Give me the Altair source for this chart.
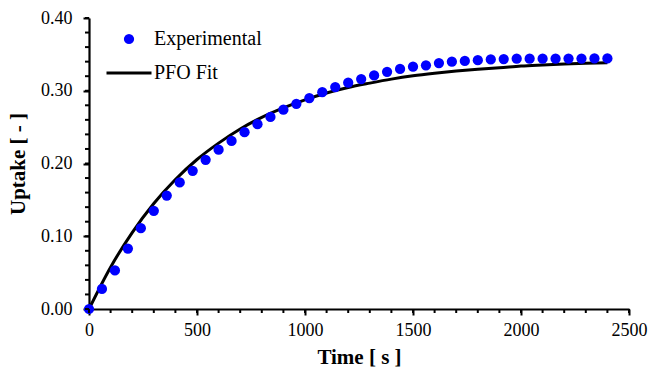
import altair as alt
import pandas as pd

# Experimental data (time in s, uptake [-])
exp_time = [0, 60, 120, 180, 240, 300, 360, 420, 480, 540,
            600, 660, 720, 780, 840, 900, 960, 1020, 1080, 1140,
            1200, 1260, 1320, 1380, 1440, 1500, 1560, 1620, 1680, 1740,
            1800, 1860, 1920, 1980, 2040, 2100, 2160, 2220, 2280, 2340, 2400]
exp_uptake = [0.000, 0.0275, 0.053, 0.083, 0.111, 0.135, 0.156, 0.174, 0.190, 0.205,
              0.219, 0.231, 0.243, 0.254, 0.264, 0.274, 0.282, 0.290, 0.298, 0.305,
              0.311, 0.316, 0.321, 0.326, 0.330, 0.333, 0.335, 0.338, 0.340, 0.341,
              0.342, 0.343, 0.3435, 0.344, 0.344, 0.344, 0.344, 0.3442, 0.3443, 0.3444, 0.3445]

# PFO fit curve
fit_time = [0, 100, 200, 300, 400, 500, 600, 700, 800, 900, 1000, 1100, 1200,
            1300, 1400, 1500, 1600, 1700, 1800, 1900, 2000, 2100, 2200, 2300, 2400]
fit_uptake = [0.000, 0.0575, 0.105, 0.145, 0.178, 0.2055, 0.228, 0.2475, 0.2635, 0.2765,
              0.2875, 0.297, 0.3045, 0.3105, 0.316, 0.3205, 0.324, 0.327, 0.3295, 0.3315,
              0.334, 0.3355, 0.3368, 0.3378, 0.3386]

# tick values
x_major = [0, 500, 1000, 1500, 2000, 2500]
x_minor = [0, 100, 200, 300, 400, 500, 600, 700, 800, 900, 1000, 1100, 1200,
           1300, 1400, 1500, 1600, 1700, 1800, 1900, 2000, 2100, 2200, 2300, 2400, 2500]
y_major = [0.0, 0.1, 0.2, 0.3, 0.4]
y_minor = [0.0, 0.02, 0.04, 0.06, 0.08, 0.1, 0.12, 0.14, 0.16, 0.18, 0.2,
           0.22, 0.24, 0.26, 0.28, 0.3, 0.32, 0.34, 0.36, 0.38, 0.4]

exp_df = pd.DataFrame({"time": exp_time, "uptake": exp_uptake, "series": "Experimental"})
fit_df = pd.DataFrame({"time": fit_time, "uptake": fit_uptake, "series": "PFO Fit"})
xminor_df = pd.DataFrame({"time": x_minor})
yminor_df = pd.DataFrame({"uptake": y_minor})

FONT = "Liberation Serif"
W, H = 540, 291
xscale = alt.Scale(domain=[0, 2500], nice=False, zero=False)
yscale = alt.Scale(domain=[0, 0.4], nice=False)

x_axis = alt.Axis(values=x_major, format="d", grid=False, ticks=True, tickSize=6,
                  tickWidth=2, tickColor="black", domainColor="black", domainWidth=2.2,
                  labelFont=FONT, labelFontSize=18, labelColor="black",
                  labelPadding=6, labelFlush=False,
                  title="Time [ s ]", titleFont=FONT,
                  titleFontSize=21, titleFontWeight="bold", titleColor="black",
                  titlePadding=7)
y_axis = alt.Axis(values=y_major, format=".2f", grid=False, ticks=True, tickSize=6,
                  tickWidth=2, tickColor="black", domainColor="black",
                  domainWidth=2.2, labelFont=FONT, labelFontSize=18,
                  labelColor="black", labelPadding=11, labelFlush=False,
                  title="Uptake [ - ]",
                  titleFont=FONT, titleFontSize=21, titleFontWeight="bold",
                  titleColor="black", titlePadding=12)

line = alt.Chart(fit_df).mark_line(strokeWidth=3, interpolate="monotone").encode(
    x=alt.X("time:Q", scale=xscale, axis=x_axis),
    y=alt.Y("uptake:Q", scale=yscale, axis=y_axis),
    stroke=alt.Stroke("series:N", scale=alt.Scale(domain=["PFO Fit"], range=["black"]),
                      legend=alt.Legend(title=None, orient="none", legendX=16, legendY=31,
                                        symbolType="stroke", symbolSize=2025,
                                        symbolStrokeWidth=3, labelFont=FONT,
                                        labelFontSize=20, labelColor="black",
                                        labelOffset=1, padding=0)),
)

points = alt.Chart(exp_df).mark_circle(size=105, opacity=1).encode(
    x=alt.X("time:Q", scale=xscale, axis=x_axis),
    y=alt.Y("uptake:Q", scale=yscale, axis=y_axis),
    fill=alt.Fill("series:N", scale=alt.Scale(domain=["Experimental"], range=["#0000ff"]),
                  legend=alt.Legend(title=None, orient="none", legendX=30, legendY=11,
                                    symbolType="circle", symbolSize=105,
                                    symbolOpacity=1, labelFont=FONT, labelFontSize=20,
                                    labelColor="black", labelOffset=15, padding=0)),
)

# minor tick marks on both axes
x_minor_ticks = alt.Chart(xminor_df).mark_rule(color="black", strokeWidth=2).encode(
    x=alt.X("time:Q", scale=xscale, axis=x_axis),
    y=alt.value(H), y2=alt.value(H + 4),
)
y_minor_ticks = alt.Chart(yminor_df).mark_rule(color="black", strokeWidth=2).encode(
    y=alt.Y("uptake:Q", scale=yscale, axis=y_axis),
    x=alt.value(0), x2=alt.value(-4),
)

chart = alt.layer(line, points, x_minor_ticks, y_minor_ticks).properties(
    width=W, height=H,
    autosize=alt.AutoSizeParams(type="none"),
    padding={"left": 89, "top": 18, "right": 19, "bottom": 71},
    background="white",
).configure_view(stroke=None)

chart.save("out.html", embed_options={"renderer": "svg", "actions": False})
